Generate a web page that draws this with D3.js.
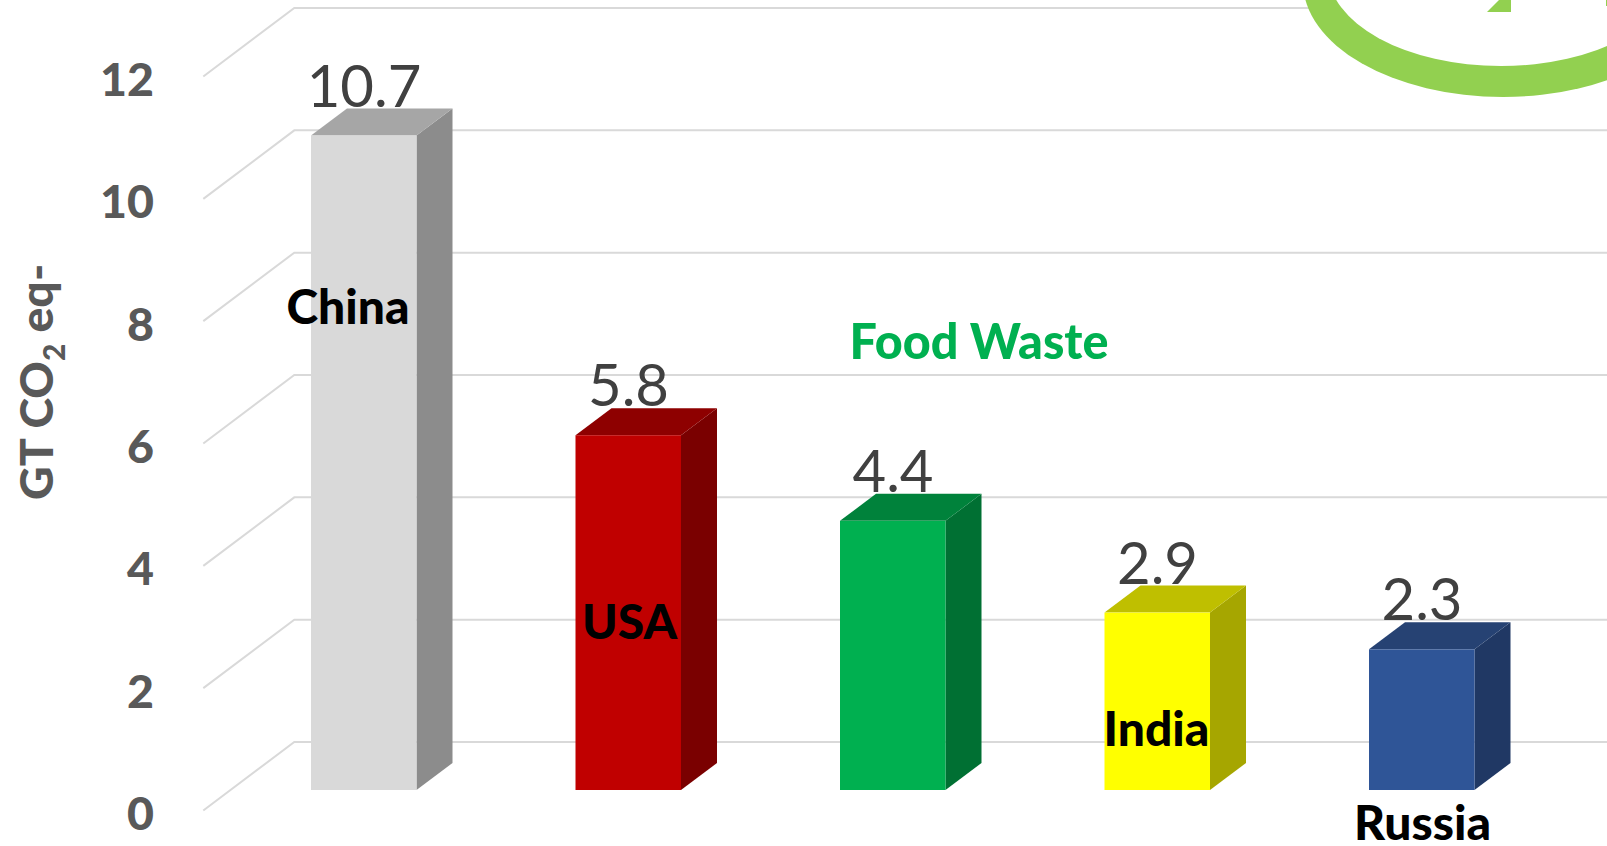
<!DOCTYPE html>
<html><head><meta charset="utf-8">
<script src="https://cdn.jsdelivr.net/npm/d3@7/dist/d3.min.js"></script>
<style>html,body{margin:0;padding:0;background:#fff;overflow:hidden}svg{display:block}text{font-family:Lato,"Noto Sans",sans-serif}</style>
</head><body><svg id="c" width="1607" height="846"></svg>
<script>
const countries = ["China","USA","","India","Russia"];
const values = [10.7,5.8,4.4,2.9,2.3];
const axisTicks = [0,2,4,6,8,10,12];
const axisTitle = "GT CO";
const annotation = "Food Waste";
const frontColors = ["#D9D9D9","#C00000","#00B050","#FFFF00","#2F5597"];
const topColors = ["#A6A6A6","#8E0000","#00823B","#BFBF00","#264273"];
const sideColors = ["#8C8C8C","#7A0000","#007033","#A6A600","#203864"];
// Hand-placed category labels: offset from each bar's left edge, and absolute baseline
const nameDx = [37,54,0,52,53.5];
const nameY = [324,638.5,0,746,840];

const svg = d3.select("#c");
const y = d3.scaleLinear().domain([0,12]).range([790,56]);
const bw = 105.5, step = 264.5, dx = 36, dy = 27;
const x = d3.scalePoint().domain(d3.range(values.length)).range([311,311+4*step]);
const gridRight = 1607, backX = 294.3, stubX = 203.3;
const backY = v => y(v) - 48, stubY = v => y(v) + 20.5;

// Gridlines on back wall and floor stubs
const grid = svg.append("g").attr("fill","none").attr("stroke","#D9D9D9").attr("stroke-width",2);
grid.selectAll("path").data(axisTicks).join("path")
  .attr("d", v => d3.line()([[stubX,stubY(v)],[backX,backY(v)],[gridRight,backY(v)]]));

// Green ring decoration at the top right, with its white interior hiding the top gridline
svg.append("ellipse").attr("cx",1503).attr("cy",-18).attr("rx",200).attr("ry",115).attr("fill","#92D050");
svg.append("ellipse").attr("cx",1501).attr("cy",-29).attr("rx",173).attr("ry",95).attr("fill","#fff");
svg.append("path").attr("fill","#92D050").attr("d","M1487,12L1511,12L1511,0L1499,0Z");
svg.append("path").attr("fill","#92D050").attr("d","M1606,0L1607,0L1607,6L1606,6Z");

// Bars
const bars = svg.append("g").selectAll("g").data(values).join("g");
bars.append("path").attr("fill",(d,i)=>sideColors[i])
  .attr("d",(d,i)=>{const l=x(i)+bw;return d3.line()([[l,y(0)],[l+dx,y(0)-dy],[l+dx,y(d)-dy],[l,y(d)]])+"Z";});
bars.append("path").attr("fill",(d,i)=>topColors[i])
  .attr("d",(d,i)=>{const l=x(i);return d3.line()([[l,y(d)],[l+dx,y(d)-dy],[l+bw+dx,y(d)-dy],[l+bw,y(d)]])+"Z";});
bars.append("rect").attr("fill",(d,i)=>frontColors[i])
  .attr("x",(d,i)=>x(i)).attr("y",d=>y(d)).attr("width",bw).attr("height",d=>y(0)-y(d));

// Value labels
svg.append("g").selectAll("text").data(values).join("text")
  .attr("x",(d,i)=>x(i)+53).attr("y",d=>y(d)-dy-2)
  .attr("text-anchor","middle").attr("font-size",58).attr("fill","#404040")
  .text(d=>d.toFixed(1));

// Country labels
svg.append("g").selectAll("text").data(countries).join("text")
  .attr("x",(d,i)=>x(i)+nameDx[i]).attr("y",(d,i)=>nameY[i])
  .attr("text-anchor","middle").attr("font-size",48).attr("font-weight",900).attr("fill","#000")
  .text(d=>d);

// Y axis labels
const axis = svg.append("g").attr("transform","translate(154,4)")
  .call(d3.axisLeft(d3.scaleLinear().domain([0,12]).range([stubY(0),stubY(12)])).tickValues(axisTicks).tickSize(0).tickPadding(0));
axis.select(".domain").remove();
axis.selectAll("text").attr("font-size",46.5).attr("font-weight",900).attr("fill","#595959").attr("font-family","Lato");

// Axis title
const t = svg.append("text").attr("transform","translate(53,500) rotate(-90)")
  .attr("font-size",46.5).attr("font-weight",900).attr("fill","#595959");
t.append("tspan").text(axisTitle);
t.append("tspan").attr("font-size",30).attr("dy",12).text("2");
t.append("tspan").attr("dy",-12).text(" eq-");

// Annotation
svg.append("text").attr("x",979).attr("y",359).attr("text-anchor","middle")
  .attr("font-size",48.5).attr("font-weight",900).attr("fill","#00B050").text(annotation);
</script></body></html>
